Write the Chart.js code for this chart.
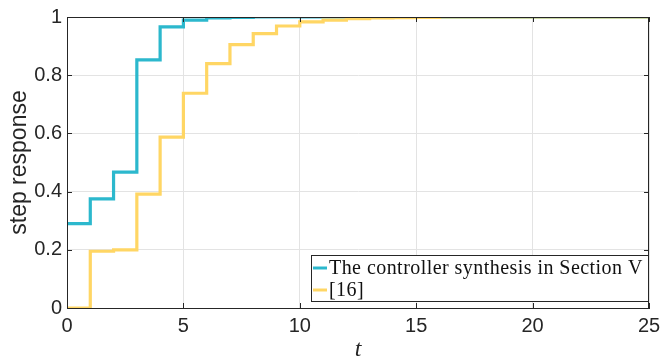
<!DOCTYPE html>
<html>
<head>
<meta charset="utf-8">
<script src="https://cdn.jsdelivr.net/npm/chart.js@4.4.1/dist/chart.umd.min.js"></script>
<style>
  html, body { margin: 0; padding: 0; background: #fff; }
  #wrap { width: 660px; height: 364px; }
</style>
</head>
<body>
<div id="wrap"><canvas id="chart"></canvas></div>
<script>
// sample instants
const tValues = [0, 1, 2, 3, 4, 5, 6, 7, 8, 9, 10, 11, 12, 13, 14, 15, 16, 17, 18, 19, 20, 21, 22, 23, 24, 25];

// step response, controller from Section V
const sectionV = [0.29, 0.375, 0.467, 0.853, 0.966, 0.989, 0.997, 0.999, 1, 1, 1, 1, 1, 1, 1, 1, 1, 1, 1, 1, 1, 1, 1, 1, 1, 1];
// step response, reference [16]
const ref16 = [0, 0.195, 0.2, 0.391, 0.587, 0.738, 0.84, 0.905, 0.943, 0.969, 0.983, 0.989, 0.994, 0.997, 0.998, 0.999, 1, 1, 1, 1, 1, 1, 1, 1, 1, 1];

const seriesLabels = ['The controller synthesis in Section V', '[16]'];
const xTicks = [0, 5, 10, 15, 20, 25];
const yTicks = [0, 0.2, 0.4, 0.6, 0.8, 1];

const blue = 'rgb(44,184,205)';
const yellow = 'rgb(255,214,100)';

function toPoints(vals) {
  return tValues.map((t, i) => ({ x: t, y: vals[i] }));
}

// box around the plot, inward ticks + MATLAB style legend
const boxPlugin = {
  id: 'box',
  afterDraw(chart) {
    const ctx = chart.ctx;
    const a = chart.chartArea;
    const xs = chart.scales.x, ys = chart.scales.y;
    ctx.save();
    ctx.strokeStyle = '#262626';
    ctx.lineWidth = 1;
    ctx.strokeRect(a.left + 0.5, a.top + 0.5, a.right - a.left - 1, a.bottom - a.top);

    ctx.beginPath();
    xTicks.forEach(v => {
      const px = Math.round(xs.getPixelForValue(v)) + 0.5;
      ctx.moveTo(px, a.bottom); ctx.lineTo(px, a.bottom - 5);
      ctx.moveTo(px, a.top); ctx.lineTo(px, a.top + 5);
    });
    yTicks.forEach(v => {
      const py = Math.round(ys.getPixelForValue(v)) + 0.5;
      ctx.moveTo(a.left, py); ctx.lineTo(a.left + 5, py);
      ctx.moveTo(a.right, py); ctx.lineTo(a.right - 5, py);
    });
    ctx.stroke();

    // legend
    const lx = 311, ly = 255, lw = 338, lh = 47;
    ctx.fillStyle = '#fff';
    ctx.fillRect(lx, ly, lw, lh);
    ctx.strokeStyle = '#262626';
    ctx.strokeRect(lx + 0.5, ly + 0.5, lw - 1, lh - 1);
    [0, 1].forEach((k, i) => {
      const ds = chart.data.datasets.find(d => d.label === seriesLabels[k]);
      const yy = ly + 13 + i * 22;
      ctx.strokeStyle = ds.borderColor;
      ctx.lineWidth = 3;
      ctx.beginPath();
      ctx.moveTo(lx + 2, yy);
      ctx.lineTo(lx + 16, yy);
      ctx.stroke();
      ctx.fillStyle = '#111';
      ctx.font = '20px "Liberation Serif", serif';
      ctx.letterSpacing = '0.45px';
      ctx.textBaseline = 'middle';
      ctx.fillText(ds.label, lx + 18, yy + 1);
    });
    ctx.restore();
  }
};

new Chart(document.getElementById('chart'), {
  type: 'line',
  data: {
    datasets: [
      {
        label: seriesLabels[0],
        data: toPoints(sectionV),
        borderColor: blue,
        backgroundColor: blue,
        borderWidth: 3.2,
        stepped: true,
        pointRadius: 0,
        order: 1
      },
      {
        label: seriesLabels[1],
        data: toPoints(ref16),
        borderColor: yellow,
        backgroundColor: yellow,
        borderWidth: 3.2,
        stepped: true,
        pointRadius: 0,
        order: 0
      }
    ]
  },
  options: {
    responsive: true,
    maintainAspectRatio: false,
    animation: false,
    layout: { padding: { top: 3, right: 0, left: 6, bottom: 0 } },
    plugins: { legend: { display: false }, tooltip: { enabled: false } },
    scales: {
      x: {
        type: 'linear',
        min: 0,
        max: 25,
        afterBuildTicks(axis) { axis.ticks = xTicks.map(v => ({ value: v })); },
        afterFit(axis) { axis.height = 56; axis.paddingRight = 11; axis.paddingLeft = 0; },
        grid: { color: '#e3e3e3', drawTicks: false },
        border: { color: '#262626' },
        ticks: { color: '#262626', font: { family: '"Liberation Sans", Arial', size: 20 }, padding: 6, maxRotation: 0 },
        title: { display: true, text: 't', color: '#262626', font: { family: '"Liberation Serif", serif', size: 24, style: 'italic' }, padding: { top: 0, bottom: 0 } }
      },
      y: {
        min: 0,
        max: 1,
        afterBuildTicks(axis) { axis.ticks = yTicks.map(v => ({ value: v })); },
        afterFit(axis) { axis.width = 61; },
        grid: { color: '#e3e3e3', drawTicks: false },
        border: { color: '#262626' },
        ticks: {
          color: '#262626',
          font: { family: '"Liberation Sans", Arial', size: 20 },
          padding: 5,
          callback: v => String(Math.round(v * 10) / 10)
        },
        title: { display: true, text: 'step response', color: '#262626', font: { family: '"Liberation Sans", Arial', size: 23 }, padding: { top: 0, bottom: 0 } }
      }
    }
  },
  plugins: [boxPlugin]
});
</script>
</body>
</html>
